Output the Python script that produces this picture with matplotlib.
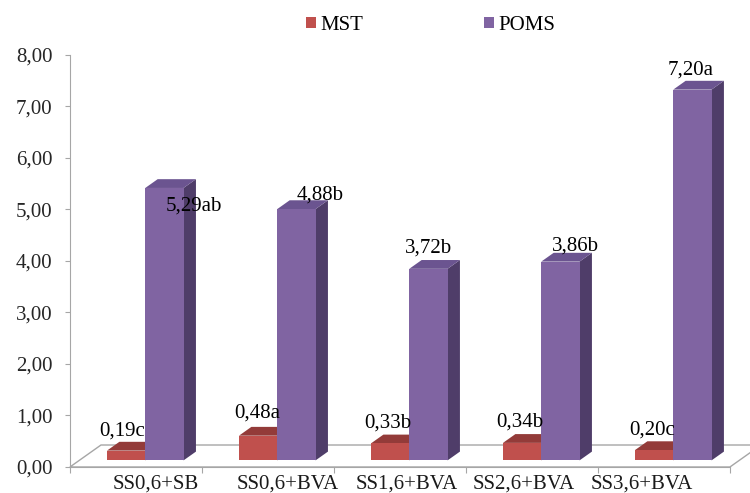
"""Excel-style 3D clustered columns: MST and POMS per treatment."""

import matplotlib
matplotlib.use("Agg")
import matplotlib.pyplot as plt
from matplotlib.patches import Polygon, Patch

plt.rcParams["font.family"] = ["Liberation Serif", "DejaVu Serif"]

categories = ["SS0,6+SB", "SS0,6+BVA", "SS1,6+BVA", "SS2,6+BVA", "SS3,6+BVA"]
mst = [0.19, 0.48, 0.33, 0.34, 0.20]
poms = [5.29, 4.88, 3.72, 3.86, 7.20]
mst_letters = ["c", "a", "b", "b", "c"]
poms_letters = ["ab", "b", "b", "b", "a"]
yticks = [0, 1, 2, 3, 4, 5, 6, 7, 8]

# look
FRONT = {"MST": "#C0504D", "POMS": "#8064A2"}
TOP = {"MST": "#933B39", "POMS": "#6B5490"}
SIDE = {"MST": "#7E3230", "POMS": "#4F3D69"}
FS = 15
DX, DY = 0.235, 0.427       # floor depth in data units (oblique projection)
D0, D1 = 0.30, 0.70         # bar depth span as fraction of floor depth
W = 0.29                    # bar width (category units)
# label nudges in px (dx, dy) from front-face centre / back top edge
MST_OFF = [(-4, 11), (-1, 14), (-2, 12), (-2, 12), (-2, 11)]
POMS_OFF = [(29, -27), (24, 5), (0, 12), (15, 7), (-2, 11)]
LABEL_X = [0.15, 1.15, 2.05, 2.94, 3.83]   # where the category names sit

fig = plt.figure(figsize=(7.5, 4.93), dpi=100)
ax = fig.add_axes([0, 0, 1, 1])
ax.set_xlim(-1.030, 4.652)
ax.set_ylim(-0.505, 9.068)

n = len(categories)
# floor
floor = Polygon([(-0.5, 0), (n - 0.5, 0), (n - 0.5 + DX, DY), (-0.5 + DX, DY)],
                closed=True, fc="white", ec="#A6A6A6", lw=1.0, zorder=1)
ax.add_patch(floor)


def bar3d(x0, v, key):
    fx, fy = x0 + D0 * DX, D0 * DY
    bx, by = x0 + D1 * DX, D1 * DY
    side = [(fx + W, fy), (fx + W, fy + v), (bx + W, by + v), (bx + W, by)]
    top = [(fx, fy + v), (fx + W, fy + v), (bx + W, by + v), (bx, by + v)]
    front = [(fx, fy), (fx + W, fy), (fx + W, fy + v), (fx, fy + v)]
    ax.add_patch(Polygon(side, closed=True, fc=SIDE[key], ec="none", zorder=3))
    ax.add_patch(Polygon(top, closed=True, fc=TOP[key], ec="none", zorder=3))
    ax.add_patch(Polygon(front, closed=True, fc=FRONT[key], ec="none", zorder=3))
    return fx + W / 2, by + v


for i in range(n):
    cx, ty = bar3d(i - W, mst[i], "MST")
    ox, oy = MST_OFF[i]
    ax.annotate(f"{mst[i]:.2f}".replace(".", ",") + mst_letters[i], (cx, ty),
                xytext=(ox * 0.72, oy * 0.72), textcoords="offset points",
                ha="center", va="center", fontsize=FS, zorder=5)
    cx, ty = bar3d(i, poms[i], "POMS")
    ox, oy = POMS_OFF[i]
    ax.annotate(f"{poms[i]:.2f}".replace(".", ",") + poms_letters[i], (cx, ty),
                xytext=(ox * 0.72, oy * 0.72), textcoords="offset points",
                ha="center", va="center", fontsize=FS, zorder=5)

# axes lines
for s in ("top", "right"):
    ax.spines[s].set_visible(False)
ax.spines["left"].set_position(("data", -0.5))
ax.spines["left"].set_bounds(0, 8)
ax.spines["bottom"].set_position(("data", 0))
ax.spines["bottom"].set_bounds(-0.5, n - 0.5)
for s in ("left", "bottom"):
    ax.spines[s].set_color("#A6A6A6")
    ax.spines[s].set_zorder(2)

ax.set_yticks(yticks)
ax.set_yticklabels([f"{t:.2f}".replace(".", ",") for t in yticks])
ax.tick_params(axis="y", direction="out", length=3.6, color="#A6A6A6",
               labelsize=FS, labelcolor="#262626", pad=9)
ax.set_xticks([k - 0.5 for k in range(n + 1)])
ax.set_xticklabels([])
ax.set_xticks(LABEL_X, minor=True)
ax.set_xticklabels(categories, minor=True)
ax.tick_params(axis="x", which="major", direction="out", length=4.5, color="#A6A6A6")
ax.tick_params(axis="x", which="minor", length=0, labelsize=FS, labelcolor="#1a1a1a", pad=5.5)

handles = [Patch(fc=FRONT["MST"], ec="none", label="MST"),
           Patch(fc=FRONT["POMS"], ec="none", label="POMS")]
fig.legend(handles=handles, loc="center", bbox_to_anchor=(0.574, 0.949), ncol=2,
           frameon=False, fontsize=FS, handlelength=0.5, handleheight=0.45,
           handletextpad=0.2, columnspacing=5.8)

fig.savefig("out.png", dpi=100, facecolor="white")
